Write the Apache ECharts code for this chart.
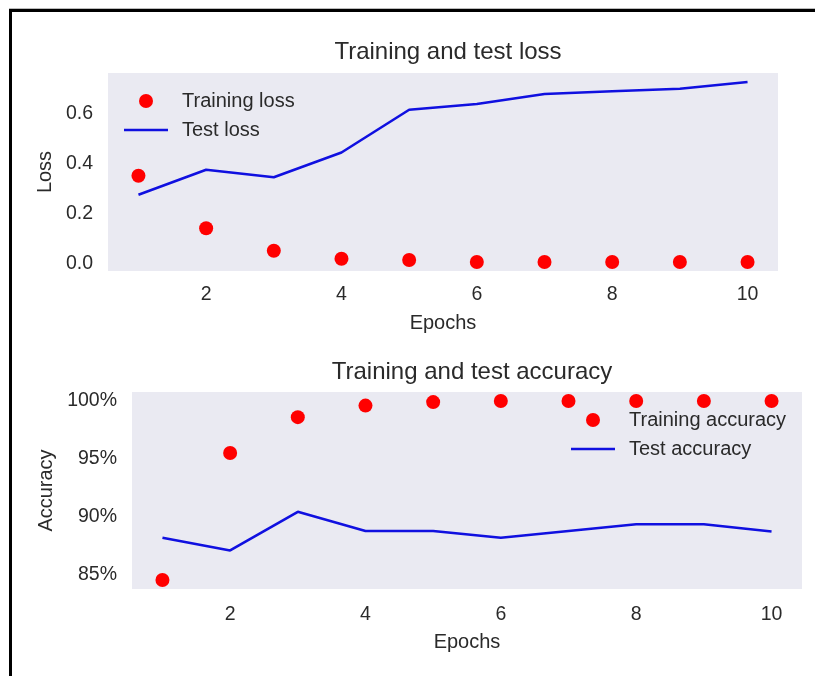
<!DOCTYPE html>
<html><head><meta charset="utf-8">
<script src="https://cdn.jsdelivr.net/npm/echarts@6/dist/echarts.min.js"></script>
<style>
html,body{margin:0;padding:0;background:#fff;overflow:hidden;}
#c{position:absolute;left:0;top:0;width:815px;height:676px;}
#frame0{position:absolute;left:9px;top:8px;width:900px;height:1px;background:#bbb;}
#frame{position:absolute;left:9px;top:9px;width:900px;height:800px;border-left:3px solid #000;border-top:3px solid #000;pointer-events:none;}
</style></head><body>
<div id="c"></div><div id="frame0"></div><div id="frame"></div>
<script>
const epochs = [1, 2, 3, 4, 5, 6, 7, 8, 9, 10];
const trainLoss = [0.353, 0.143, 0.053, 0.021, 0.016, 0.008, 0.008, 0.008, 0.008, 0.008];
const testLoss = [0.277, 0.377, 0.347, 0.446, 0.617, 0.640, 0.680, 0.691, 0.701, 0.728];
const trainAcc = [84.5, 95.5, 98.6, 99.6, 99.9, 100, 100, 100, 100, 100];
const testAcc = [88.16, 87.06, 90.41, 88.75, 88.75, 88.16, 88.75, 89.33, 89.33, 88.7];
const xTicks = [2, 4, 6, 8, 10];
const lossTicks = [0.0, 0.2, 0.4, 0.6];
const accTicks = [85, 90, 95, 100];

const font = "'Liberation Sans', Arial, sans-serif";
const tc = '#2a2a2a';
const red = '#ff0000';
const blue = '#1010e0';
function range(arrs) {
  const all = [].concat(...arrs);
  const lo = Math.min(...all), hi = Math.max(...all), m = (hi - lo) * 0.05;
  return [lo - m, hi + m];
}
const xr = range([epochs]);
const lr = range([trainLoss, testLoss]);
const ar = range([trainAcc, testAcc]);
const pts = (ys) => epochs.map((e, i) => [e, ys[i]]);

const baseText = { fontFamily: font, color: tc };
function xAxis(gi, margin, gap) {
  return {
    type: 'value', gridIndex: gi, min: xr[0], max: xr[1],
    axisLine: { show: false }, axisTick: { show: false }, splitLine: { show: false },
    axisLabel: { customValues: xTicks, margin: margin, fontSize: 19.5, ...baseText },
    name: 'Epochs', nameLocation: 'middle', nameGap: gap,
    nameTextStyle: { fontSize: 20, ...baseText }
  };
}
function yAxis(gi, r, ticks, fmt, name, gap) {
  return {
    type: 'value', gridIndex: gi, min: r[0], max: r[1],
    axisLine: { show: false }, axisTick: { show: false }, splitLine: { show: false },
    axisLabel: { customValues: ticks, margin: 15, fontSize: 19.5, formatter: fmt, ...baseText },
    name: name, nameLocation: 'middle', nameGap: gap,
    nameTextStyle: { fontSize: 20, ...baseText }
  };
}
const lineIcon = 'path://M0,0H176V10H0Z';
const legendCommon = {
  orient: 'vertical', itemWidth: 44, itemHeight: 14, itemGap: 9, selectedMode: false,
  textStyle: { fontSize: 20, ...baseText, padding: [0, 0, 0, 9] }
};

const chart = echarts.init(document.getElementById('c'), null, { renderer: 'canvas' });
chart.setOption({
  animation: false,
  backgroundColor: '#fff',
  title: [
    { text: 'Training and test loss', left: 443, top: 35, textAlign: 'center',
      textStyle: { fontSize: 24, fontWeight: 'normal', ...baseText } },
    { text: 'Training and test accuracy', left: 467, top: 355, textAlign: 'center',
      textStyle: { fontSize: 24, fontWeight: 'normal', ...baseText } }
  ],
  legend: [
    { ...legendCommon, left: 119, top: 86,
      data: [{ name: 'Training loss', icon: 'circle' },
             { name: 'Test loss', icon: lineIcon, itemStyle: { color: blue } }] },
    { ...legendCommon, left: 566, top: 405,
      data: [{ name: 'Training accuracy', icon: 'circle' },
             { name: 'Test accuracy', icon: lineIcon, itemStyle: { color: blue } }] }
  ],
  grid: [
    { left: 108, top: 73, width: 670, height: 198, show: true, backgroundColor: '#EAEAF2', borderWidth: 0 },
    { left: 132, top: 392, width: 670, height: 197, show: true, backgroundColor: '#EAEAF2', borderWidth: 0 }
  ],
  xAxis: [xAxis(0, 14, 42), xAxis(1, 16, 43)],
  yAxis: [
    yAxis(0, lr, lossTicks, v => v.toFixed(1), 'Loss', 49),
    yAxis(1, ar, accTicks, v => Math.round(v) + '%', 'Accuracy', 75)
  ],
  series: [
    { name: 'Training loss', type: 'scatter', xAxisIndex: 0, yAxisIndex: 0, data: pts(trainLoss),
      symbolSize: 14, itemStyle: { color: red, opacity: 1 } },
    { name: 'Test loss', type: 'line', xAxisIndex: 0, yAxisIndex: 0, data: pts(testLoss),
      symbol: 'none', lineStyle: { color: blue, width: 2.6 }, itemStyle: { color: blue } },
    { name: 'Training accuracy', type: 'scatter', xAxisIndex: 1, yAxisIndex: 1, data: pts(trainAcc),
      symbolSize: 14, itemStyle: { color: red, opacity: 1 } },
    { name: 'Test accuracy', type: 'line', xAxisIndex: 1, yAxisIndex: 1, data: pts(testAcc),
      symbol: 'none', lineStyle: { color: blue, width: 2.6 }, itemStyle: { color: blue } }
  ]
});
</script>
</body></html>
